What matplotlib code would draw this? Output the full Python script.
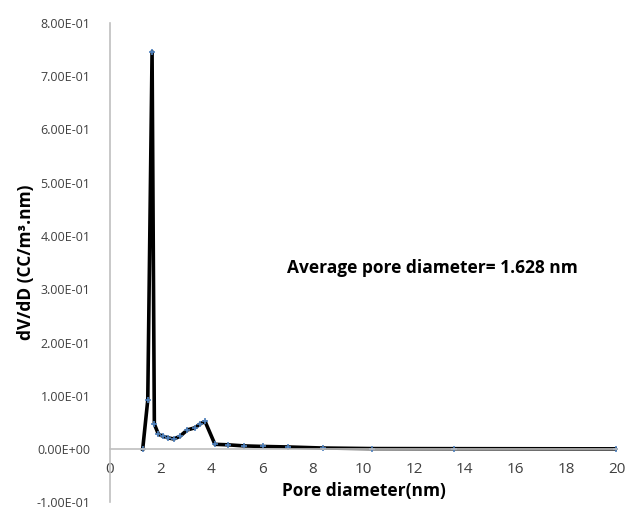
import matplotlib.pyplot as plt
import numpy as np

# pore size distribution
pore_d = [1.29, 1.49, 1.66, 1.75, 1.91, 2.10, 2.30, 2.52, 2.76, 3.05,
          3.35, 3.55, 3.75, 4.14, 4.67, 5.29, 6.02, 7.03, 8.42, 10.32,
          13.57, 19.96]
dvdd = [0.0, 0.092, 0.746, 0.047, 0.028, 0.024, 0.021, 0.019, 0.024, 0.036,
        0.040, 0.047, 0.052, 0.009, 0.008, 0.006, 0.005, 0.004, 0.002, 0.001,
        0.0008, 0.0005]

xticks = np.arange(0, 21, 2)
yticks = np.arange(-0.1, 0.81, 0.1)

plt.rcParams['font.family'] = ['Open Sans', 'DejaVu Sans']

fig = plt.figure(figsize=(6.25, 5.09), dpi=100)
ax = fig.add_axes([0.176, 0.013, 0.811, 0.942])

ax.plot(pore_d, dvdd, color='black', linewidth=2.6,
        marker='+', markersize=4, markeredgecolor='#4f81bd',
        markeredgewidth=1.2)

ax.set_xlim(0, 20)
ax.set_ylim(-0.1, 0.8)
ax.set_xticks(xticks)
ax.set_yticks(yticks)
ax.set_yticklabels(["%.2E" % v if abs(v) > 1e-9 else "0.00E+00" for v in yticks])

ax.spines['top'].set_visible(False)
ax.spines['right'].set_visible(False)
ax.spines['bottom'].set_position(('data', 0))
ax.spines['left'].set_color('#bfbfbf')
ax.spines['bottom'].set_color('#bfbfbf')
ax.spines['left'].set_linewidth(1.2)
ax.spines['bottom'].set_linewidth(1.2)
ax.tick_params(length=0, colors='#404040')
ax.tick_params(axis='y', labelsize=9, pad=14)
ax.tick_params(axis='x', labelsize=11, pad=9)

ax.set_xlabel("Pore diameter(nm)", fontsize=12.5, fontweight='bold')
ax.xaxis.set_label_coords(0.5, 0.042)
ax.set_ylabel("dV/dD (CC/m³.nm)", fontsize=12.5, fontweight='bold', labelpad=1)

ax.text(7.0, 0.34, "Average pore diameter= 1.628 nm",
        fontsize=12.5, fontweight='bold', va='center')

fig.savefig("out.png", dpi=100)
